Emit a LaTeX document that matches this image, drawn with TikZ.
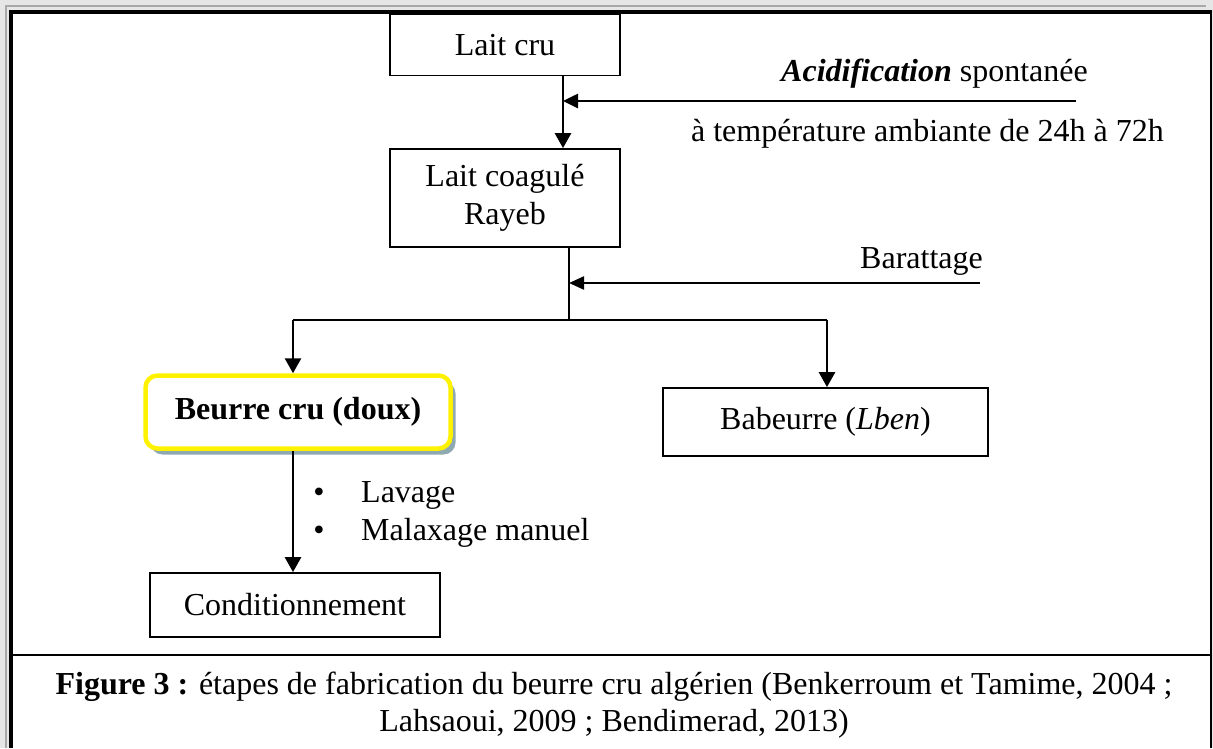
\documentclass[tikz,border=0pt]{standalone}
\usepackage{fontspec}
\setmainfont{Liberation Serif}
\usetikzlibrary{arrows.meta,shadows}
\definecolor{shadowblue}{HTML}{8FA9B3}
\definecolor{framegray}{HTML}{A8A8A8}
\definecolor{framelight}{HTML}{E6E6E6}
\begin{document}
\begin{tikzpicture}[x=1pt,y=-1pt,
  every node/.style={font=\fontsize{32}{38}\selectfont, inner sep=0pt},
  stepbox/.style={draw, line width=1.8pt, minimum width=#1, align=center},
  flow/.style={line width=2.8pt, -{Triangle[width=16pt,length=15pt]}},
  feed/.style={line width=2.6pt, -{Triangle[width=14pt,length=15pt]}},
  plain/.style={line width=2pt},
  caption/.style={font=\fontsize{32}{38}\selectfont}
]
\useasboundingbox (0,0) rectangle (1213,748);

% page frame
\fill[framelight] (0,0) rectangle (1213,748);
\fill[white] (9,10) rectangle (1210,748);
\draw[framegray, line width=2.5pt] (6,748) -- (6,6) -- (1206,6);
\draw[line width=4pt] (11,748) -- (11,12) -- (1212,12);
\draw[line width=2pt] (1211,12) -- (1211,748);
\draw[line width=2pt] (11,655) -- (1211,655);

% process boxes
\node[stepbox=230pt, minimum height=61pt] (laitcru) at (505,45) {Lait cru};
\node[stepbox=230pt, minimum height=98pt] (coag) at (505,198) {Lait coagulé\\Rayeb};
\node[draw=yellow, line width=4.5pt, rounded corners=12pt, fill=white,
      minimum width=305pt, minimum height=73pt,
      drop shadow={shadow xshift=5pt, shadow yshift=-6pt, fill=shadowblue, opacity=1}]
      (beurre) at (298,412) {\textbf{Beurre cru (doux)}};
\node[stepbox=325pt, minimum height=68pt] (babeurre) at (825.5,422) {Babeurre (\textit{Lben})};
\node[stepbox=290pt, minimum height=64pt] (cond) at (295,605) {Conditionnement};

% junction points
\coordinate (acidin) at (1076,101);
\coordinate (acidj) at (563,101);
\coordinate (barin) at (980,283);
\coordinate (barj) at (569,283);
\coordinate (split) at (569,320);
\coordinate (splitL) at (293,320);
\coordinate (splitR) at (827,320);

% connectors
\draw[flow] (laitcru.south -| acidj) -- (coag.north -| acidj);
\draw[feed] (acidin) -- (acidj);
\draw[plain] (coag.south -| split) -- (split);
\draw[feed, line width=2.2pt, -{Triangle[width=13pt,length=15pt]}] (barin) -- (barj);
\draw[plain] (splitL) -- (splitR);
\draw[flow] (splitL) -- (beurre.north -| splitL);
\draw[flow] (splitR) -- (babeurre.north -| splitR);
\draw[flow] (beurre.south -| splitL) -- (cond.north -| splitL);

% side labels
\node[anchor=base east] (acidtxt) at (1088,81) {\textbf{\textit{Acidification}} spontanée};
\node[anchor=base east] (temptxt) at (1164,141) {à température ambiante de 24h à 72h};
\node[anchor=base east] (bartxt) at (983,268) {Barattage};
\node[anchor=base] (b1) at (319,502) {\textbullet};
\node[anchor=base west] (lav) at (361,502) {Lavage};
\node[anchor=base] (b2) at (319,540) {\textbullet};
\node[anchor=base west] (mal) at (361,540) {Malaxage manuel};

% caption
\node[caption, anchor=base] (cap1) at (614,694) {\textbf{Figure 3 :} étapes de fabrication du beurre cru algérien (Benkerroum et Tamime, 2004 ;};
\node[caption, anchor=base] (cap2) at (614,731) {Lahsaoui, 2009 ; Bendimerad, 2013)};
\end{tikzpicture}
\end{document}
